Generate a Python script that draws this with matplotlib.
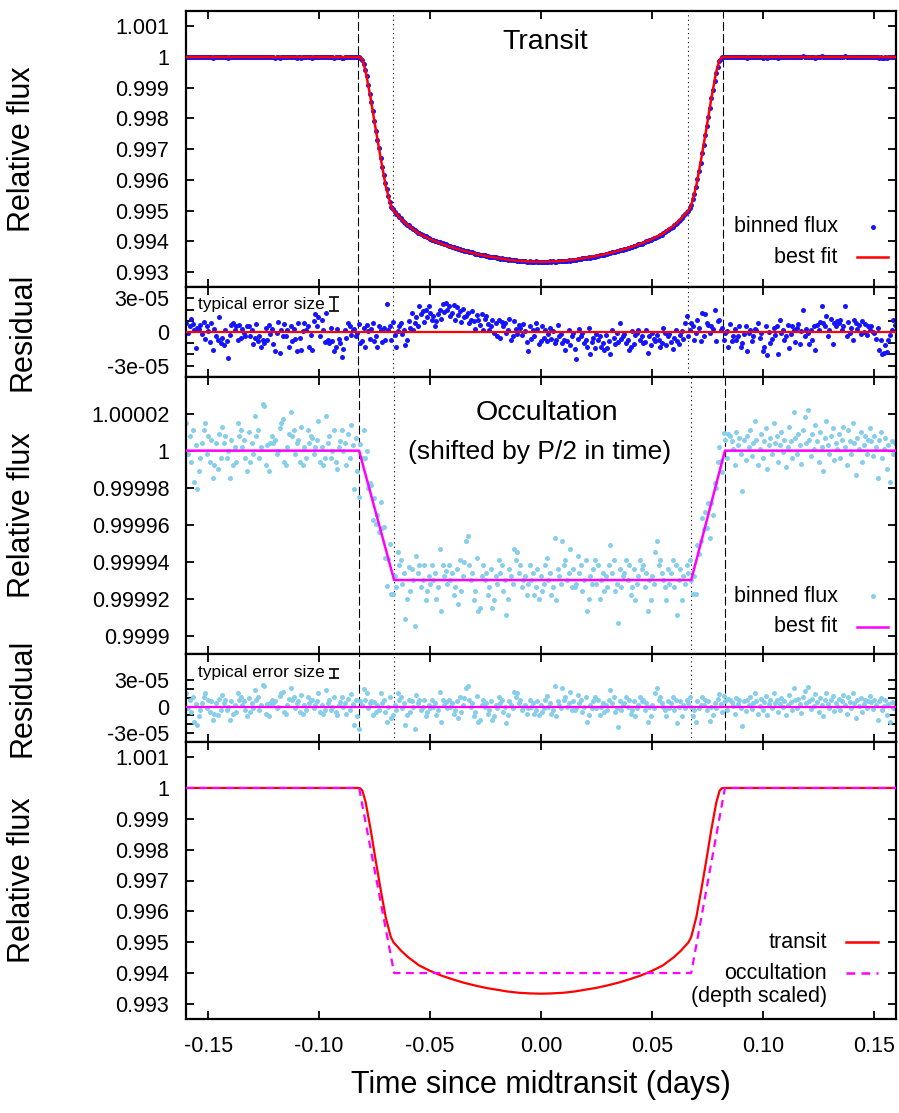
import numpy as np
import matplotlib.pyplot as plt
from matplotlib.lines import Line2D
from matplotlib.ticker import FixedLocator, FixedFormatter

plt.rcParams['font.family'] = ['Liberation Sans', 'DejaVu Sans']

# transit model, egress half (ingress is the mirror image)
tr_half_t = [0.0, 0.005, 0.01, 0.015, 0.02, 0.025, 0.03, 0.035, 0.04, 0.045, 0.05,
             0.055, 0.06, 0.063, 0.0665, 0.0677, 0.0700, 0.0722, 0.0745, 0.0767,
             0.0790, 0.0805, 0.0815, 0.0822, 0.16]
tr_half_f = [0.99333, 0.99334, 0.99336, 0.99340, 0.99346, 0.99352, 0.99360, 0.99369,
             0.99380, 0.99392, 0.99407, 0.99425, 0.99452, 0.99472, 0.99500, 0.99517,
             0.99581, 0.99668, 0.99765, 0.99862, 0.99953, 0.99991, 0.99999, 1.0, 1.0]

# occultation model (trapezoid), and the same shape with scaled depth
occ_t = [-0.16, -0.0820, -0.0662, 0.0677, 0.0829, 0.16]
occ_f = [1.0, 1.0, 0.99993, 0.99993, 1.0, 1.0]
occ_scaled_f = [1.0, 1.0, 0.994, 0.994, 1.0, 1.0]

# contact times marked in the data panels
tr_contacts = [(-0.0823, 'dash'), (-0.0665, 'dot'), (0.0664, 'dot'), (0.0821, 'dash')]
oc_contacts = [(-0.0820, 'dash'), (-0.0662, 'dot'), (0.0677, 'dot'), (0.0829, 'dash')]

# bin centres, ~1 min cadence
t_bin = np.round(np.arange(457) * 0.0007 - 0.1598, 4)

# residuals of the binned light curves (units of 1e-6)
res_tr = [
    8, -1, 5, 12, 7, 2, -14, 4, 3, 6, -2, 9, -6, 5, 1, -9, 8, -16, 3, -4,
    -7, 13, -10, -5, -12, 2, -8, -23, -3, 6, 8, 2, 5, -7, 6, -5, 3, -1, -4, 5,
    5, -4, 2, -11, -5, 7, -8, -4, -13, -7, -10, 4, -7, 6, -2, 3, -11, -17, -1, 9,
    -19, 2, -4, 7, -4, 2, -13, 5, -8, 3, -6, -17, 8, -5, -16, 1, 8, 2, 5, -13,
    -3, -16, 10, 16, 5, 13, -4, 11, 2, -9, 17, -7, -10, 4, -8, -17, -13, 3, -6, -10,
    -22, -15, 2, -5, 8, 5, -3, 2, 3, -4, -1, 7, -10, -8, 4, -13, 6, 1, -6, 3,
    8, -8, -4, -13, 5, 2, -9, 4, -7, 25, 2, 5, -7, 9, -3, -13, 1, 5, 8, -2,
    2, -12, -7, 10, 4, 17, 2, 8, 13, 5, 23, 16, 19, 9, 20, 13, 23, 17, 11, 14,
    5, 10, 16, 20, 12, 25, 18, 26, 20, 23, 14, 17, 24, 11, 22, 15, 19, 9, 21, 13,
    14, 17, 8, 11, 19, 10, 3, 15, 11, 6, 16, 2, 12, 14, 7, 2, 5, 11, -1, 8,
    -4, 11, -5, 9, 5, 8, -1, 2, 12, -7, -4, 10, 3, -2, 6, 4, -3, 7, 1, -9,
    -17, 5, -6, 2, -4, 8, 3, -11, -8, 5, -5, 2, -8, -2, 4, -6, 1, -10, -7, 6,
    -4, -2, -10, -7, -16, -8, 2, -12, -4, -1, -15, -24, -6, 3, -4, -1, -10, -7, -13, 4,
    -20, -9, -5, -14, -2, -7, -4, -13, -10, -16, -3, -14, -8, -20, 2, -5, -11, -1, -9, 8,
    -6, -4, -2, -10, -7, -16, -13, 1, -11, -3, -1, 2, -7, -4, -10, -9, 2, -19, -4, -12,
    -1, -6, -8, -3, -7, -13, -10, 4, -1, -12, -4, -2, -9, -15, -5, 2, -8, -11, -3, 1,
    -6, 8, 14, -4, 2, 8, 5, -7, -1, 11, 4, -8, 17, -4, 16, 8, 6, -1, 5, 3,
    20, -8, 10, 11, 2, 4, -7, -1, 1, -13, 7, -8, -4, 3, -7, -4, 5, -13, -10, -2,
    5, -17, -1, 2, -8, -4, 3, 2, 8, -5, -1, -17, -13, 5, -21, 0, -10, -6, 4, -3,
    5, -20, 11, -1, 2, -7, -4, 6, -14, -2, 5, 2, -9, 4, 7, -11, 1, 20, -4, 3,
    -1, -11, 2, -7, 5, -16, 6, 2, 9, 23, 8, 5, 14, -4, 2, 12, -11, 8, 5, 10,
    8, 11, 2, 5, 23, -4, 9, -1, 4, -7, 11, 8, 3, 6, -2, 10, 0, 7, -3, 5,
    2, 5, 0, -1, -6, 4, -16, -7, -20, -19, -12, -18, -7, -3, 2, 11, 6,
]
res_oc = [
    15, -2, 8, -6, 11, -17, 3, -21, -11, -4, 4, 11, 15, -2, 8, -6, 6, -15, -8, 4,
    -10, 9, -4, 13, 4, 8, -4, 0, -15, 6, -8, 2, -6, 15, 8, 11, 2, 6, -4, -11,
    10, -6, 4, -2, 19, 8, 11, -4, 2, 25, 24, -8, 3, -11, 4, 8, 4, 6, -2, 0,
    12, 15, 17, -6, -8, 2, 9, 21, 8, 11, -2, 4, 6, -6, 13, -8, 2, -4, 11, 4,
    8, 7, -2, 2, 6, 16, -6, 2, -8, -4, 19, 4, 8, -4, 0, 11, -6, -10, 2, 5,
    11, 0, 4, -8, 9, -4, 14, 3, -21, 7, -11, -25, 6, 2, 20, 8, 15, -2, 4, 6,
    -10, 5, -6, 2, -4, 15, 4, 8, -6, -18, 0, 11, -13, -10, 2, -4, 15, 8, 11, -2,
    4, -21, -10, 7, -6, 6, 0, -25, 13, 4, 8, -4, 0, 8, -11, -6, 2, -2, 8, 0,
    4, -10, -4, 17, -17, 8, 2, 5, -2, 8, 0, 4, -8, -4, 6, -13, 11, -6, 2, 10,
    21, 24, 8, 0, 4, -11, -6, 12, -17, -15, 2, 8, 0, 4, -8, -4, 6, -15, -11, 2,
    -2, 11, 4, 8, -6, 0, -19, -10, 6, 2, -2, 17, 11, 15, 4, 8, -4, 0, 2, -8,
    -2, 8, 0, 4, -8, -4, 6, -10, 2, -6, -2, 8, 12, 0, 4, -8, -4, 23, -11, 6,
    2, -2, 21, 8, 11, 0, 4, 17, -4, 6, -4, -2, 13, 4, 8, -6, 0, 11, -17, -10,
    2, -2, 6, 11, -2, 8, -10, 0, 4, -6, 2, -4, 8, 19, 4, 11, -6, -2, -23, 6,
    -4, 2, 4, 11, 0, 8, -8, -4, 6, -11, -2, 2, 11, 6, 8, -4, 4, -17, 0, -11,
    2, -2, 15, 21, 8, 11, 4, 0, -4, -11, 6, -2, 4, 11, -4, 8, -19, 0, 6, -11,
    2, -2, 8, 4, 11, 0, -11, -4, -17, 6, -2, 2, 11, 2, 8, -4, 6, -16, 0, -10,
    4, -2, 9, 14, 3, -6, 12, 6, -4, 9, 8, 5, 1, -8, 10, 3, 7, -2, -22, 6,
    -5, 8, 2, 11, -3, 4, 16, 6, -8, 1, 9, -4, 5, 12, -10, 3, 7, -2, 15, 4,
    8, -6, 3, 10, -1, 6, -9, 2, 13, 5, -4, 21, 7, -2, 9, 3, -7, 11, 18, 4,
    22, 6, -3, 9, 1, 14, 5, -6, 10, 2, -11, 7, 16, 3, -2, 8, 12, -5, 4, 1,
    9, -4, 6, 13, 2, -8, 11, 5, -2, 15, 4, -13, 7, 1, 10, -6, 3, 8, -2, 6,
    12, 5, -3, 8, 2, -15, 6, 10, -4, 1, 7, -10, 3, -17, 5, -2, 4,
]

# typical error bars (position and half-length)
err_t = -0.0932
err_tr_y, err_tr = 2.5e-5, 6e-6
err_oc_y, err_oc = 3.8e-5, 5e-6

x_ticks = [-0.15, -0.10, -0.05, 0.0, 0.05, 0.10, 0.15]
x_labels = ['-0.15', '-0.10', '-0.05', '0.00', '0.05', '0.10', '0.15']
flux_ticks = [0.993, 0.994, 0.995, 0.996, 0.997, 0.998, 0.999, 1.0, 1.001]
flux_labels = ['0.993', '0.994', '0.995', '0.996', '0.997', '0.998', '0.999', '1', '1.001']
occ_ticks = [0.9999, 0.99992, 0.99994, 0.99996, 0.99998, 1.0, 1.00002]
occ_labels = ['0.9999', '0.99992', '0.99994', '0.99996', '0.99998', '1', '1.00002']
res_ticks = [-3e-5, -2e-5, -1e-5, 0.0, 1e-5, 2e-5, 3e-5]
res_labels = ['-3e-05', '', '', '0', '', '', '3e-05']

blue = '#1414ff'
sky = '#87ceeb'
red = '#ff0000'
magenta = '#ff00ff'
dot = 3.6

# model curves and binned points
tr_half_t = np.array(tr_half_t)
tr_half_f = np.array(tr_half_f)
tr_t = np.concatenate([-tr_half_t[::-1], tr_half_t[1:]])
tr_f = np.concatenate([tr_half_f[::-1], tr_half_f[1:]])
res_tr = np.array(res_tr) * 1e-6
res_oc = np.array(res_oc) * 1e-6
flux_tr = np.interp(t_bin, tr_t, tr_f) + res_tr
flux_oc = np.interp(t_bin, occ_t, occ_f) + res_oc

W, H = 899, 1113
fig = plt.figure(figsize=(W / 100, H / 100), dpi=100)


def fx(x):
    return x / W


def fy(y):
    return 1 - y / H


def add_panel(top, bottom):
    return fig.add_axes([186 / W, 1 - bottom / H, 710 / W, (bottom - top) / H])


ax1 = add_panel(11, 287.3)
ax2 = add_panel(287.3, 376.7)
ax3 = add_panel(376.7, 654)
ax4 = add_panel(654, 741.7)
ax5 = add_panel(741.7, 1019.3)

for ax in (ax1, ax2, ax3, ax4, ax5):
    ax.set_xlim(-0.16, 0.16)
    ax.xaxis.set_major_locator(FixedLocator(x_ticks))
    ax.xaxis.set_major_formatter(FixedFormatter(x_labels))
    ax.tick_params(direction='in', length=6, width=1.3, top=True, right=True,
                   labelsize=15.5, pad=12)
    for s in ax.spines.values():
        s.set_linewidth(1.6)
    if ax is not ax5:
        ax.tick_params(labelbottom=False)

for ax in (ax1, ax5):
    ax.set_ylim(0.9925, 1.0015)
    ax.yaxis.set_major_locator(FixedLocator(flux_ticks))
    ax.yaxis.set_major_formatter(FixedFormatter(flux_labels))
ax3.set_ylim(0.99989, 1.00004)
ax3.yaxis.set_major_locator(FixedLocator(occ_ticks))
ax3.yaxis.set_major_formatter(FixedFormatter(occ_labels))
ax2.set_ylim(-4e-5, 4e-5)
ax4.set_ylim(-4e-5, 6e-5)
for ax in (ax2, ax4):
    ax.yaxis.set_major_locator(FixedLocator(res_ticks))
    ax.yaxis.set_major_formatter(FixedFormatter(res_labels))

# contact lines
for axs, contacts in (((ax1, ax2), tr_contacts), ((ax3, ax4), oc_contacts)):
    for ax in axs:
        for t, kind in contacts:
            ls = (0, (8, 3)) if kind == 'dash' else (0, (1, 3))
            ax.axvline(t, color='k', lw=0.8, ls=ls, zorder=1)

# transit
ax1.plot(t_bin, flux_tr, 'o', ms=dot, mew=0, color=blue, zorder=2)
ax1.plot(tr_t, tr_f, color=red, lw=1.8, zorder=3)
ax2.plot(t_bin, res_tr, 'o', ms=dot, mew=0, color=blue, zorder=2)
ax2.axhline(0, color=red, lw=1.6, zorder=3)
ax2.errorbar([err_t], [err_tr_y], yerr=[err_tr], color='k', lw=1.2, capsize=3.5, capthick=1.2)
ax2.text(0.017, 0.81, 'typical error size', transform=ax2.transAxes,
         va='center', fontsize=12.5)

# occultation
ax3.plot(t_bin, flux_oc, 'o', ms=dot, mew=0, color=sky, zorder=2)
ax3.plot(occ_t, occ_f, color=magenta, lw=1.8, zorder=3)
ax4.plot(t_bin, res_oc, 'o', ms=dot, mew=0, color=sky, zorder=2)
ax4.axhline(0, color=magenta, lw=1.6, zorder=3)
ax4.errorbar([err_t], [err_oc_y], yerr=[err_oc], color='k', lw=1.2, capsize=3.5, capthick=1.2)
ax4.text(0.017, 0.787, 'typical error size', transform=ax4.transAxes,
         va='center', fontsize=12.5)

# comparison
ax5.plot(tr_t, tr_f, color=red, lw=1.6, zorder=3)
ax5.plot(occ_t, occ_scaled_f, color=magenta, lw=1.6, ls=(0, (3.5, 2.5)), zorder=3)

# titles
fig.text(fx(545), fy(41.7), 'Transit', ha='center', va='center', fontsize=20.5)
fig.text(fx(546.7), fy(413.3), 'Occultation', ha='center', va='center', fontsize=20.5)
fig.text(fx(539.5), fy(451.7), '(shifted by P/2 in time)', ha='center', va='center',
         fontsize=19)

# axis labels
for yc, lab in ((149, 'Relative flux'), (332, 'Residual'), (515.3, 'Relative flux'),
                (698, 'Residual'), (880.5, 'Relative flux')):
    fig.text(fx(22.5), fy(yc), lab, rotation=90, ha='center', va='center', fontsize=22)
fig.text(fx(541), fy(1085), 'Time since midtransit (days)', ha='center', va='center',
         fontsize=22)

# key entries
def key_text(x, y, s):
    fig.text(fx(x), fy(y), s, ha='right', va='center', fontsize=15.5)


def key_line(y, color, ls='-'):
    fig.add_artist(Line2D([fx(857), fx(888.3)], [fy(y), fy(y)], color=color, lw=1.8,
                          ls=ls, transform=fig.transFigure))


def key_dot(y, color):
    fig.add_artist(Line2D([fx(872.7)], [fy(y)], marker='o', ms=dot, mew=0, ls='none',
                          color=color, transform=fig.transFigure))


key_text(837.7, 226.7, 'binned flux')
key_dot(226.7, blue)
key_text(837.7, 257.3, 'best fit')
key_line(257.3, red)

key_text(837.7, 596, 'binned flux')
key_dot(596, sky)
key_text(837.7, 626.7, 'best fit')
key_line(626.7, magenta)

key_text(826.7, 942.3, 'transit')
fig.add_artist(Line2D([fx(846), fx(877.7)], [fy(942.3)] * 2, color=red, lw=1.8,
                      transform=fig.transFigure))
key_text(826.7, 973.3, 'occultation')
fig.add_artist(Line2D([fx(846), fx(877.7)], [fy(973.3)] * 2, color=magenta, lw=1.8,
                      ls=(0, (3.5, 2.5)), transform=fig.transFigure))
key_text(826.7, 996.7, '(depth scaled)')

fig.savefig('out.png', dpi=100)
